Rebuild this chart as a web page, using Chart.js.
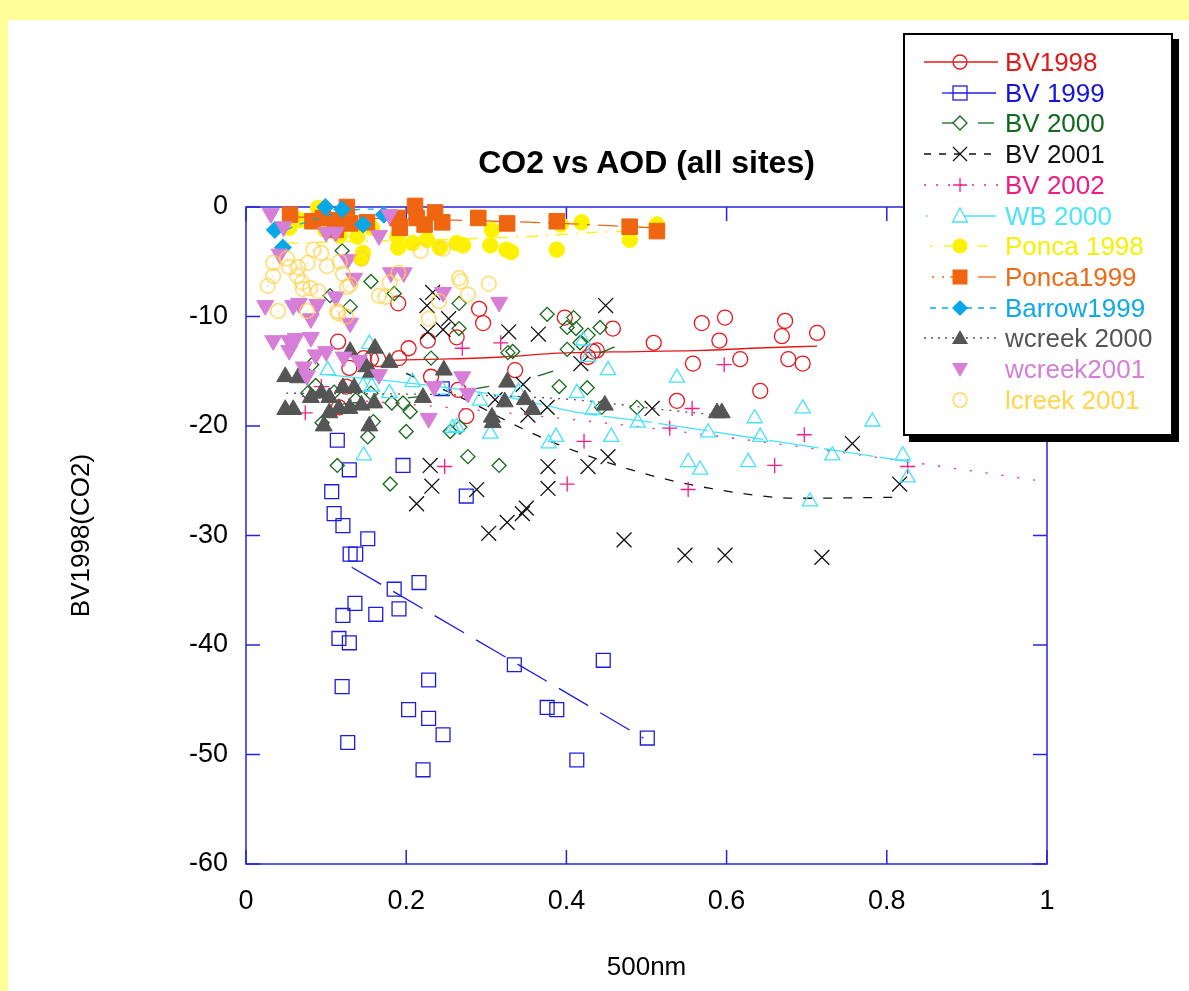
<!DOCTYPE html>
<html><head><meta charset="utf-8">
<script src="https://cdn.jsdelivr.net/npm/chart.js@4.4.0/dist/chart.umd.min.js"></script>
<style>
html,body{margin:0;padding:0;}
body{width:1189px;height:991px;background:#ffff99;position:relative;overflow:hidden;font-family:"Liberation Sans",Arial,sans-serif;}
#white{position:absolute;left:8px;top:20px;right:0;bottom:0;background:#fff;}
#c{position:absolute;left:0;top:0;}
#title{position:absolute;left:246px;width:801px;top:142px;text-align:center;font-weight:bold;font-size:32px;line-height:40px;color:#000;}
#legend{position:absolute;left:903px;top:33px;width:266px;height:399px;border:2px solid #000;background:#fff;box-shadow:6px 6px 0 #000;}
.row{position:absolute;left:0;height:30px;width:266px;}
.row svg{position:absolute;left:17px;top:0;}
.row span{position:absolute;left:100px;top:0;font-size:26px;line-height:30px;white-space:nowrap;}
</style>
</head><body>
<div id="white"></div>
<canvas id="c" width="1189" height="991"></canvas>
<div id="title">CO2 vs AOD (all sites)</div>
<div id="legend"></div>
<script>
// ---------- data ----------
const xTickLabels = ['0','0.2','0.4','0.6','0.8','1'];
const yTickLabels = ['-60','-50','-40','-30','-20','-10','0'];

const bv1998X = [0.190,0.115,0.129,0.147,0.156,0.165,0.191,0.203,0.125,0.116,0.231,0.227,0.263,0.291,0.296,0.336,0.398,0.458,0.509,0.569,0.598,0.591,0.558,0.617,0.673,0.669,0.677,0.438,0.427,0.695,0.713,0.642,0.538,0.275,0.265,0.433];
const bv1998Y = [-8.8,-12.3,-14.7,-13.8,-13.9,-13.9,-13.8,-12.9,-16.4,-18.3,-15.5,-12.2,-11.9,-9.3,-10.6,-14.9,-10.1,-11.1,-12.4,-10.6,-10.1,-12.2,-14.3,-13.9,-10.4,-11.8,-13.9,-13.1,-13.7,-14.3,-11.5,-16.8,-17.7,-19.1,-16.7,-13.2];

const bv1999X = [0.114,0.129,0.196,0.107,0.110,0.121,0.152,0.275,0.245,0.130,0.137,0.216,0.185,0.136,0.121,0.162,0.191,0.116,0.129,0.120,0.228,0.203,0.228,0.246,0.127,0.221,0.335,0.446,0.376,0.388,0.413,0.501];
const bv1999Y = [-21.3,-24.0,-23.6,-26.0,-28.0,-29.1,-30.3,-26.4,-16.6,-31.7,-31.7,-34.3,-34.9,-36.2,-37.3,-37.2,-36.7,-39.4,-39.8,-43.8,-43.2,-45.9,-46.7,-48.2,-48.9,-51.4,-41.8,-41.4,-45.7,-45.9,-50.5,-48.5];

const bv2000X = [0.120,0.156,0.105,0.130,0.185,0.266,0.266,0.231,0.327,0.333,0.082,0.376,0.409,0.401,0.412,0.442,0.427,0.417,0.401,0.391,0.426,0.488,0.255,0.267,0.277,0.316,0.087,0.077,0.095,0.152,0.182,0.196,0.205,0.200,0.114,0.180,0.444,0.156,0.159,0.137,0.110];
const bv2000Y = [-4.0,-6.8,-8.1,-9.1,-7.9,-8.8,-11.1,-13.8,-13.3,-13.2,-14.4,-9.8,-10.1,-11.0,-11.1,-11.0,-11.7,-12.4,-13.0,-16.4,-16.5,-18.3,-20.5,-20.1,-22.8,-23.6,-16.3,-17.0,-19.7,-21.0,-17.9,-17.9,-18.7,-20.5,-23.6,-25.3,-18.3,-17.0,-19.6,-17.6,-16.9];

const bv2001X = [0.233,0.226,0.253,0.246,0.227,0.328,0.365,0.449,0.418,0.346,0.311,0.376,0.352,0.507,0.452,0.377,0.427,0.377,0.230,0.232,0.213,0.288,0.303,0.326,0.345,0.350,0.472,0.548,0.598,0.757,0.816,0.719];
const bv2001Y = [-7.8,-9.0,-10.2,-11.2,-11.4,-11.4,-11.6,-9.0,-14.3,-16.2,-17.6,-18.3,-19.0,-18.4,-22.8,-23.7,-23.7,-25.7,-23.6,-25.5,-27.1,-25.8,-29.8,-28.8,-28.0,-27.5,-30.4,-31.8,-31.8,-21.6,-25.3,-32.0];

const bv2002X = [0.270,0.318,0.597,0.557,0.529,0.697,0.422,0.248,0.401,0.552,0.660,0.094,0.074,0.826];
const bv2002Y = [-12.9,-12.4,-14.4,-18.4,-20.2,-20.8,-21.4,-23.7,-25.3,-25.8,-23.6,-16.4,-18.8,-23.7];

const wb2000X = [0.154,0.102,0.146,0.157,0.179,0.208,0.147,0.245,0.292,0.258,0.263,0.305,0.340,0.421,0.427,0.452,0.413,0.433,0.387,0.378,0.456,0.538,0.635,0.489,0.577,0.642,0.552,0.567,0.627,0.695,0.782,0.732,0.820,0.826,0.704];
const wb2000Y = [-12.5,-14.9,-16.4,-16.4,-17.0,-16.0,-22.7,-16.7,-17.7,-20.2,-20.1,-20.7,-16.9,-12.2,-13.7,-14.9,-17.0,-18.5,-21.0,-21.6,-21.0,-15.6,-19.3,-19.7,-20.6,-21.0,-23.3,-24.0,-23.3,-18.4,-19.6,-22.7,-22.7,-24.7,-26.9];

const ponca1998X = [0.090,0.054,0.099,0.117,0.139,0.157,0.146,0.144,0.189,0.190,0.208,0.226,0.242,0.263,0.271,0.307,0.305,0.325,0.331,0.388,0.393,0.419,0.479,0.513,0.067];
const ponca1998Y = [-0.1,-1.9,-2.1,-2.6,-2.7,-1.9,-4.2,-4.7,-2.7,-3.7,-3.3,-3.0,-3.7,-3.3,-3.5,-2.1,-3.5,-3.9,-4.1,-3.9,-1.6,-1.4,-3.0,-1.6,-1.2];

const ponca1999X = [0.055,0.096,0.111,0.126,0.130,0.151,0.189,0.192,0.211,0.213,0.223,0.245,0.290,0.326,0.388,0.479,0.513,0.236,0.083,0.112];
const ponca1999Y = [-0.7,-1.0,-1.2,0.0,-1.5,-1.4,-1.0,-1.9,0.1,-1.0,-1.6,-1.4,-1.0,-1.5,-1.3,-1.8,-2.2,-0.5,-1.3,-2.1];

const barrow1999X = [0.036,0.046,0.099,0.120,0.146,0.172];
const barrow1999Y = [-2.1,-3.7,0.0,-0.2,-1.6,-0.7];

const wcreek2000X = [0.049,0.065,0.130,0.161,0.179,0.150,0.156,0.121,0.094,0.104,0.081,0.135,0.144,0.129,0.160,0.116,0.049,0.059,0.104,0.097,0.154,0.221,0.247,0.326,0.323,0.348,0.358,0.307,0.308,0.448,0.588,0.594];
const wcreek2000Y = [-15.5,-15.6,-13.2,-12.9,-14.2,-14.6,-15.1,-16.5,-17.0,-17.4,-17.4,-16.5,-18.1,-18.4,-17.9,-18.4,-18.5,-18.5,-18.8,-20.0,-20.0,-17.4,-14.9,-16.0,-17.8,-17.6,-18.5,-19.2,-19.7,-18.1,-18.8,-18.8];

const wcreek2001X = [0.031,0.047,0.100,0.112,0.166,0.179,0.042,0.127,0.135,0.181,0.197,0.246,0.316,0.024,0.059,0.066,0.089,0.081,0.112,0.130,0.034,0.054,0.062,0.081,0.087,0.100,0.122,0.141,0.054,0.072,0.076,0.166,0.235,0.228,0.270,0.277];
const wcreek2001Y = [-0.6,-1.8,-2.3,-2.3,-2.6,-0.7,-4.3,-4.8,-6.5,-6.0,-6.0,-7.8,-8.7,-9.0,-9.0,-8.8,-8.9,-10.2,-8.2,-10.6,-12.2,-12.2,-12.0,-11.9,-13.5,-13.2,-13.7,-14.0,-13.1,-14.6,-15.4,-15.3,-16.4,-19.3,-15.5,-17.0];

const lcreek2001X = [0.084,0.094,0.034,0.051,0.054,0.077,0.065,0.101,0.117,0.121,0.064,0.034,0.027,0.070,0.071,0.090,0.080,0.126,0.130,0.144,0.190,0.179,0.166,0.174,0.040,0.076,0.114,0.115,0.125,0.228,0.241,0.218,0.246,0.266,0.268,0.277,0.303];
const lcreek2001Y = [-3.9,-4.2,-5.1,-4.7,-5.5,-5.1,-5.5,-5.4,-5.0,-6.1,-6.3,-6.3,-7.2,-6.9,-7.5,-7.7,-7.4,-7.3,-7.1,-4.7,-6.0,-6.9,-8.1,-8.2,-9.5,-9.5,-9.5,-9.7,-10.0,-10.2,-8.6,-4.0,-3.8,-6.5,-6.8,-8.0,-7.0];

// fitted curves
const fitBV1998X = [0.18,0.24,0.32,0.39,0.49,0.57,0.63,0.713];
const fitBV1998Y = [-14.0,-13.9,-13.7,-13.35,-13.2,-13.1,-12.9,-12.7];
const fitBV1999X = [0.132,0.31,0.496];
const fitBV1999Y = [-32.9,-40.5,-48.5];
const fitBV2000X = [0.12,0.25,0.37,0.48];
const fitBV2000Y = [-18.0,-17.0,-15.3,-12.2];
const fitBV2001X = [0.2,0.28,0.33,0.39,0.49,0.58,0.69,0.82];
const fitBV2001Y = [-15.2,-17.8,-19.7,-21.7,-24.2,-25.7,-26.6,-26.5];
const fitBV2002X = [0.07,0.25,0.47,0.65,0.83,1.0];
const fitBV2002Y = [-17.3,-18.3,-19.9,-21.5,-23.3,-25.1];
const fitWB2000X = [0.1,0.24,0.33,0.41,0.5,0.59,0.67,0.76,0.83];
const fitWB2000Y = [-15.3,-16.4,-17.4,-18.7,-19.6,-20.6,-21.5,-22.5,-23.3];
const fitPonca1998X = [0.05,0.35,0.44,0.48];
const fitPonca1998Y = [-3.3,-2.7,-2.3,-2.2];
const fitPonca1999X = [0.05,0.26,0.36,0.51];
const fitPonca1999Y = [-0.9,-1.2,-1.4,-1.9];
const fitBarrow1999X = [0.035,0.07,0.15,0.17];
const fitBarrow1999Y = [-2.6,-1.5,-0.2,-0.2];
const fitWcreek2000X = [0.05,0.29,0.41,0.52,0.59];
const fitWcreek2000Y = [-17.0,-17.2,-17.6,-18.5,-19.0];

// ---------- styling ----------
function lcreekImage(){
  const c=document.createElement('canvas'); c.width=18; c.height=18;
  const g=c.getContext('2d'); g.strokeStyle='#ffd24a'; g.lineWidth=1.3;
  g.beginPath(); g.arc(9,9,7.3,0,Math.PI*2); g.stroke();
  g.fillStyle='#e0b030'; g.fillRect(8.5,8.5,1,1);
  return c;
}
const series = [
 {label:'BV1998', xs:bv1998X, ys:bv1998Y, color:'#e8161b', text:'#e01a1a', ps:'circle', r:7.5, fill:false, fx:fitBV1998X, fy:fitBV1998Y, dash:[]},
 {label:'BV 1999', xs:bv1999X, ys:bv1999Y, color:'#1c1ce0', text:'#1414d8', ps:'rect', r:9.8, fill:false, fx:fitBV1999X, fy:fitBV1999Y, dash:[34,14]},
 {label:'BV 2000', xs:bv2000X, ys:bv2000Y, color:'#17681c', text:'#0f6a1e', ps:'rectRot', r:7, fill:false, fx:fitBV2000X, fy:fitBV2000Y, dash:[16,50]},
 {label:'BV 2001', xs:bv2001X, ys:bv2001Y, color:'#111111', text:'#111111', ps:'crossRot', r:10.5, fill:false, fx:fitBV2001X, fy:fitBV2001Y, dash:[9,11]},
 {label:'BV 2002', xs:bv2002X, ys:bv2002Y, color:'#f21f88', text:'#ef1c84', ps:'cross', r:7.5, fill:false, fx:fitBV2002X, fy:fitBV2002Y, dash:[2,14]},
 {label:'WB 2000', xs:wb2000X, ys:wb2000Y, color:'#48e2fa', text:'#4ce4fa', ps:'triangle', r:8.8, fill:false, fx:fitWB2000X, fy:fitWB2000Y, dash:[50,6]},
 {label:'Ponca 1998', xs:ponca1998X, ys:ponca1998Y, color:'#fff200', text:'#f8f000', ps:'circle', r:7.8, fill:true, fx:fitPonca1998X, fy:fitPonca1998Y, dash:[12,8,2,8]},
 {label:'Ponca1999', xs:ponca1999X, ys:ponca1999Y, color:'#ef6510', text:'#ee6a16', ps:'rect', r:11, fill:true, fx:fitPonca1999X, fy:fitPonca1999Y, dash:[20,8,3,8]},
 {label:'Barrow1999', xs:barrow1999X, ys:barrow1999Y, color:'#08a8e8', text:'#10a8e6', ps:'rectRot', r:8.5, fill:true, fx:fitBarrow1999X, fy:fitBarrow1999Y, dash:[6,8]},
 {label:'wcreek 2000', xs:wcreek2000X, ys:wcreek2000Y, color:'#555555', text:'#555555', ps:'triangle', r:9.8, fill:true, fx:fitWcreek2000X, fy:fitWcreek2000Y, dash:[2,6]},
 {label:'wcreek2001', xs:wcreek2001X, ys:wcreek2001Y, color:'#d67ed8', text:'#d47fd6', ps:'triangle', rot:180, r:9.8, fill:true},
 {label:'lcreek 2001', xs:lcreek2001X, ys:lcreek2001Y, color:'#ffd24a', text:'#ffd54a', ps:'img', r:8, fill:false}
];

const pts = (xs,ys)=>xs.map((v,i)=>({x:v,y:ys[i]}));
const datasets=[];
let ord=1000;
series.forEach(s=>{
  if(s.fx){
    datasets.push({label:s.label+' fit', data:pts(s.fx,s.fy), showLine:true, pointRadius:0, borderColor:s.color,
      borderWidth:1.3, borderDash:s.dash, backgroundColor:'transparent', cubicInterpolationMode:'monotone', fill:false, clip:false, order:ord--});
  }
  datasets.push({label:s.label, data:pts(s.xs,s.ys), showLine:false,
    pointStyle: s.ps==='img'? lcreekImage(): s.ps, pointRotation:s.rot||0, pointRadius:s.r,
    pointBackgroundColor: s.fill? s.color : 'rgba(0,0,0,0)', pointBorderColor:s.color,
    pointBorderWidth: s.fill?1:1.3, clip:false, order:ord--});
});

const frame = {
  id:'frame',
  beforeDatasetsDraw(chart){
    const {ctx, chartArea:{left,right,top,bottom}, scales:{x,y}} = chart;
    ctx.save(); ctx.strokeStyle='#2424e0'; ctx.lineWidth=1.5;
    ctx.strokeRect(left,top,right-left,bottom-top);
    const L=14;
    ctx.beginPath();
    x.ticks.forEach(t=>{const p=x.getPixelForValue(t.value); ctx.moveTo(p,top); ctx.lineTo(p,top+L); ctx.moveTo(p,bottom); ctx.lineTo(p,bottom-L);});
    y.ticks.forEach(t=>{const p=y.getPixelForValue(t.value); ctx.moveTo(left,p); ctx.lineTo(left+L,p); ctx.moveTo(right,p); ctx.lineTo(right-L,p);});
    ctx.stroke(); ctx.restore();
  }
};

const FONT='"Liberation Sans", Arial, sans-serif';
new Chart(document.getElementById('c'), {
  type:'scatter',
  data:{datasets},
  options:{
    responsive:false, animation:false, events:[],
    layout:{padding:{top:207,right:142,left:0,bottom:0}},
    plugins:{legend:{display:false}, tooltip:{enabled:false}, title:{display:false}},
    scales:{
      x:{type:'linear', min:0, max:1,
        ticks:{stepSize:0.2, color:'#000', padding:13, font:{family:FONT,size:27}, maxRotation:0,
          callback:(v)=>xTickLabels[Math.round(v/0.2)]},
        grid:{display:false}, border:{display:false},
        title:{display:true, text:'500nm', color:'#000', font:{family:FONT,size:26}, padding:{top:0,bottom:8}},
        afterFit:(s)=>{s.height=127;}},
      y:{type:'linear', min:-60, max:0,
        ticks:{stepSize:10, color:'#000', padding:10, font:{family:FONT,size:27},
          callback:(v)=>yTickLabels[Math.round((v+60)/10)]},
        grid:{display:false}, border:{display:false},
        title:{display:true, text:'BV1998(CO2)', color:'#000', font:{family:FONT,size:26}, padding:{top:66,bottom:0}},
        afterFit:(s)=>{s.width=246;}}
    }
  },
  plugins:[frame]
});

// ---------- legend (HTML) ----------
function markerSVG(s,cx,cy){
  const c=s.color;
  switch(s.label){
    case 'BV1998': return `<circle cx="${cx}" cy="${cy}" r="7" fill="none" stroke="${c}" stroke-width="1.3"/>`;
    case 'BV 1999': return `<rect x="${cx-7}" y="${cy-7}" width="14" height="14" fill="none" stroke="${c}" stroke-width="1.3"/>`;
    case 'BV 2000': return `<polygon points="${cx-7},${cy} ${cx},${cy-7} ${cx+7},${cy} ${cx},${cy+7}" fill="#fff" stroke="${c}" stroke-width="1.3"/>`;
    case 'BV 2001': return `<path d="M${cx-7} ${cy-7}L${cx+7} ${cy+7}M${cx+7} ${cy-7}L${cx-7} ${cy+7}" stroke="${c}" stroke-width="1.3"/>`;
    case 'BV 2002': return `<path d="M${cx-7} ${cy}L${cx+7} ${cy}M${cx} ${cy-7}L${cx} ${cy+7}" stroke="${c}" stroke-width="1.3"/>`;
    case 'WB 2000': return `<polygon points="${cx},${cy-8} ${cx+7.5},${cy+6} ${cx-7.5},${cy+6}" fill="#fff" stroke="${c}" stroke-width="1.3"/>`;
    case 'Ponca 1998': return `<circle cx="${cx}" cy="${cy}" r="7.5" fill="${c}"/>`;
    case 'Ponca1999': return `<rect x="${cx-7.5}" y="${cy-7.5}" width="15" height="15" fill="${c}"/>`;
    case 'Barrow1999': return `<polygon points="${cx-8},${cy} ${cx},${cy-8} ${cx+8},${cy} ${cx},${cy+8}" fill="${c}"/>`;
    case 'wcreek 2000': return `<polygon points="${cx},${cy-8} ${cx+8},${cy+6} ${cx-8},${cy+6}" fill="${c}"/>`;
    case 'wcreek2001': return `<polygon points="${cx},${cy+8} ${cx+8},${cy-6} ${cx-8},${cy-6}" fill="${c}"/>`;
    case 'lcreek 2001': return `<circle cx="${cx}" cy="${cy}" r="7" fill="none" stroke="${c}" stroke-width="1.3"/><rect x="${cx-0.5}" y="${cy-0.5}" width="1" height="1" fill="#d8a830"/>`;
  }
  return '';
}
const legendLines = {
 'BV1998':[[2,76,'']],
 'BV 1999':[[20,28,''],[28,74,'']],
 'BV 2000':[[20,36,''],[56,72,'']],
 'BV 2001':[[2,76,'7,8']],
 'BV 2002':[[2,76,'2,10']],
 'WB 2000':[[4,6,''],[40,74,'']],
 'Ponca 1998':[[8,10,''],[22,34,''],[56,66,'']],
 'Ponca1999':[[10,12,''],[20,22,''],[28,36,''],[56,74,'']],
 'Barrow1999':[[8,76,'6,6']],
 'wcreek 2000':[[2,76,'2,5']]
};
const lg=document.getElementById('legend');
series.forEach((s,i)=>{
  const row=document.createElement('div'); row.className='row';
  row.style.top=(12+i*30.7)+'px';
  let lines='';
  (legendLines[s.label]||[]).forEach(([a,b,d])=>{lines+=`<line x1="${a}" y1="15" x2="${b}" y2="15" stroke="${s.color}" stroke-width="1.3" ${d?`stroke-dasharray="${d}"`:''}/>`;});
  row.innerHTML=`<svg width="80" height="30">${lines}${markerSVG(s,38,15)}</svg><span style="color:${s.text}">${s.label}</span>`;
  lg.appendChild(row);
});
</script>
</body></html>
